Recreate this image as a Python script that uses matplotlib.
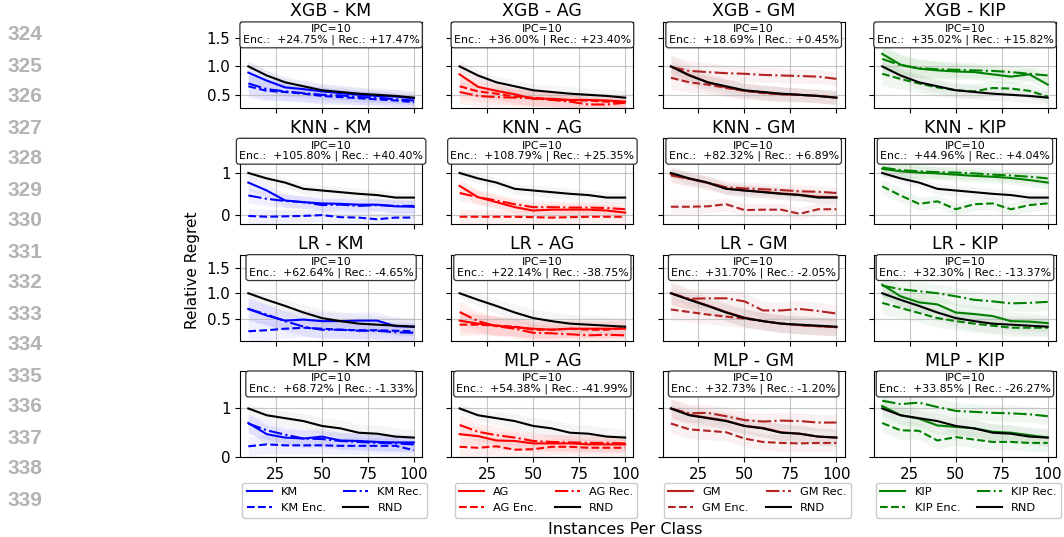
import matplotlib
matplotlib.use("Agg")
import matplotlib.pyplot as plt
import numpy as np

# instances per class
ipc = [10, 20, 30, 40, 50, 60, 70, 80, 90, 100]

classifiers = ["XGB", "KNN", "LR", "MLP"]
methods = ["KM", "AG", "GM", "KIP"]
colors = {"KM": "blue", "AG": "red", "GM": "#b22222", "KIP": "green"}

# random-selection baseline per classifier (same in every column)
rnd = {
    "XGB": [1.0, 0.84, 0.72, 0.65, 0.58, 0.55, 0.52, 0.50, 0.48, 0.45],
    "KNN": [1.0, 0.87, 0.77, 0.62, 0.58, 0.54, 0.50, 0.47, 0.41, 0.41],
    "LR": [1.0, 0.87, 0.75, 0.62, 0.51, 0.45, 0.40, 0.38, 0.36, 0.34],
    "MLP": [1.0, 0.86, 0.80, 0.74, 0.64, 0.59, 0.50, 0.48, 0.42, 0.40],
}
rnd_std = {
    "XGB": [0.10, 0.10, 0.11, 0.11, 0.11, 0.12, 0.12, 0.12, 0.12, 0.12],
    "KNN": [0.10, 0.12, 0.12, 0.13, 0.13, 0.13, 0.13, 0.13, 0.13, 0.13],
    "LR": [0.10, 0.12, 0.14, 0.16, 0.17, 0.18, 0.18, 0.18, 0.18, 0.18],
    "MLP": [0.10, 0.12, 0.14, 0.16, 0.17, 0.18, 0.18, 0.18, 0.18, 0.18],
}

# (classifier, method) -> plain / encoder / recovered curves
plain = {
    ("XGB", "KM"): [0.89, 0.75, 0.63, 0.60, 0.56, 0.53, 0.50, 0.48, 0.47, 0.44],
    ("XGB", "AG"): [0.86, 0.64, 0.57, 0.51, 0.43, 0.43, 0.41, 0.41, 0.40, 0.38],
    ("XGB", "GM"): [1.0, 0.85, 0.72, 0.63, 0.57, 0.54, 0.51, 0.50, 0.48, 0.45],
    ("XGB", "KIP"): [1.22, 1.03, 0.96, 0.93, 0.91, 0.90, 0.86, 0.82, 0.86, 0.68],
    ("KNN", "KM"): [0.77, 0.58, 0.34, 0.30, 0.27, 0.26, 0.24, 0.24, 0.20, 0.19],
    ("KNN", "AG"): [0.69, 0.42, 0.30, 0.18, 0.10, 0.12, 0.12, 0.12, 0.10, 0.05],
    ("KNN", "GM"): [0.97, 0.86, 0.76, 0.63, 0.58, 0.55, 0.51, 0.48, 0.43, 0.42],
    ("KNN", "KIP"): [1.10, 1.04, 1.01, 0.99, 0.96, 0.93, 0.91, 0.88, 0.83, 0.77],
    ("LR", "KM"): [0.69, 0.56, 0.46, 0.48, 0.45, 0.45, 0.46, 0.46, 0.35, 0.34],
    ("LR", "AG"): [0.46, 0.40, 0.36, 0.33, 0.30, 0.28, 0.30, 0.30, 0.30, 0.30],
    ("LR", "GM"): [1.0, 0.88, 0.76, 0.63, 0.52, 0.45, 0.40, 0.37, 0.35, 0.33],
    ("LR", "KIP"): [1.17, 0.94, 0.82, 0.78, 0.62, 0.59, 0.55, 0.45, 0.44, 0.41],
    ("MLP", "KM"): [0.70, 0.47, 0.40, 0.38, 0.42, 0.34, 0.33, 0.31, 0.30, 0.30],
    ("MLP", "AG"): [0.47, 0.43, 0.34, 0.33, 0.28, 0.28, 0.28, 0.26, 0.26, 0.26],
    ("MLP", "GM"): [1.0, 0.87, 0.81, 0.75, 0.64, 0.60, 0.51, 0.48, 0.42, 0.40],
    ("MLP", "KIP"): [1.05, 0.86, 0.79, 0.65, 0.62, 0.59, 0.52, 0.50, 0.45, 0.40],
}
enc = {
    ("XGB", "KM"): [0.65, 0.57, 0.55, 0.52, 0.48, 0.46, 0.44, 0.42, 0.40, 0.37],
    ("XGB", "AG"): [0.65, 0.56, 0.52, 0.47, 0.45, 0.42, 0.40, 0.40, 0.38, 0.36],
    ("XGB", "GM"): [0.80, 0.72, 0.68, 0.62, 0.57, 0.53, 0.51, 0.50, 0.48, 0.45],
    ("XGB", "KIP"): [0.87, 0.78, 0.70, 0.63, 0.58, 0.56, 0.62, 0.61, 0.57, 0.47],
    ("KNN", "KM"): [-0.03, -0.05, -0.04, -0.03, -0.01, -0.06, -0.07, -0.11, -0.07, -0.07],
    ("KNN", "AG"): [-0.05, -0.05, -0.05, -0.05, -0.06, -0.07, -0.06, -0.05, -0.05, -0.05],
    ("KNN", "GM"): [0.19, 0.19, 0.20, 0.25, 0.11, 0.12, 0.12, 0.02, 0.13, 0.13],
    ("KNN", "KIP"): [0.68, 0.46, 0.26, 0.32, 0.13, 0.25, 0.27, 0.13, 0.23, 0.27],
    ("LR", "KM"): [0.25, 0.27, 0.30, 0.32, 0.30, 0.28, 0.27, 0.27, 0.26, 0.25],
    ("LR", "AG"): [0.38, 0.38, 0.36, 0.34, 0.28, 0.28, 0.30, 0.28, 0.28, 0.32],
    ("LR", "GM"): [0.68, 0.63, 0.58, 0.54, 0.50, 0.45, 0.40, 0.37, 0.35, 0.33],
    ("LR", "KIP"): [0.81, 0.71, 0.61, 0.51, 0.45, 0.40, 0.36, 0.32, 0.32, 0.32],
    ("MLP", "KM"): [0.22, 0.26, 0.24, 0.24, 0.24, 0.23, 0.23, 0.23, 0.23, 0.14],
    ("MLP", "AG"): [0.21, 0.19, 0.22, 0.15, 0.16, 0.21, 0.21, 0.19, 0.19, 0.19],
    ("MLP", "GM"): [0.69, 0.57, 0.54, 0.51, 0.38, 0.31, 0.29, 0.28, 0.29, 0.29],
    ("MLP", "KIP"): [0.70, 0.55, 0.54, 0.34, 0.41, 0.36, 0.31, 0.31, 0.29, 0.29],
}
rec = {
    ("XGB", "KM"): [0.70, 0.60, 0.56, 0.53, 0.50, 0.49, 0.46, 0.45, 0.42, 0.40],
    ("XGB", "AG"): [0.55, 0.48, 0.46, 0.45, 0.44, 0.41, 0.38, 0.33, 0.33, 0.36],
    ("XGB", "GM"): [0.99, 0.92, 0.90, 0.88, 0.87, 0.85, 0.84, 0.83, 0.82, 0.78],
    ("XGB", "KIP"): [1.13, 1.02, 0.97, 0.95, 0.94, 0.93, 0.92, 0.90, 0.87, 0.84],
    ("KNN", "KM"): [0.46, 0.38, 0.33, 0.30, 0.23, 0.24, 0.21, 0.23, 0.21, 0.21],
    ("KNN", "AG"): [0.52, 0.42, 0.34, 0.25, 0.18, 0.18, 0.17, 0.17, 0.16, 0.13],
    ("KNN", "GM"): [0.94, 0.86, 0.77, 0.66, 0.63, 0.61, 0.59, 0.56, 0.55, 0.52],
    ("KNN", "KIP"): [1.13, 1.07, 1.04, 1.02, 1.01, 0.99, 0.96, 0.94, 0.91, 0.87],
    ("LR", "KM"): [0.69, 0.58, 0.45, 0.34, 0.28, 0.28, 0.26, 0.26, 0.23, 0.22],
    ("LR", "AG"): [0.63, 0.45, 0.35, 0.30, 0.22, 0.21, 0.19, 0.17, 0.18, 0.17],
    ("LR", "GM"): [1.0, 0.89, 0.90, 0.90, 0.84, 0.66, 0.66, 0.69, 0.65, 0.60],
    ("LR", "KIP"): [1.15, 1.08, 1.04, 1.00, 0.94, 0.87, 0.84, 0.80, 0.81, 0.83],
    ("MLP", "KM"): [0.69, 0.55, 0.46, 0.38, 0.37, 0.33, 0.31, 0.29, 0.28, 0.26],
    ("MLP", "AG"): [0.66, 0.52, 0.45, 0.40, 0.33, 0.31, 0.30, 0.29, 0.29, 0.28],
    ("MLP", "GM"): [1.0, 0.90, 0.91, 0.84, 0.76, 0.73, 0.75, 0.74, 0.71, 0.71],
    ("MLP", "KIP"): [1.16, 1.09, 1.12, 1.03, 0.95, 0.93, 0.91, 0.90, 0.88, 0.84],
}
# spread used for the shaded bands of each method
method_std = {
    "XGB": [0.20, 0.18, 0.16, 0.15, 0.14, 0.13, 0.13, 0.12, 0.12, 0.12],
    "KNN": [0.18, 0.17, 0.16, 0.15, 0.15, 0.15, 0.15, 0.15, 0.15, 0.15],
    "LR": [0.22, 0.20, 0.19, 0.18, 0.18, 0.17, 0.17, 0.17, 0.17, 0.17],
    "MLP": [0.20, 0.19, 0.18, 0.18, 0.17, 0.17, 0.17, 0.17, 0.17, 0.17],
}

gain_enc = {
    ("XGB", "KM"): "+24.75%", ("XGB", "AG"): "+36.00%", ("XGB", "GM"): "+18.69%", ("XGB", "KIP"): "+35.02%",
    ("KNN", "KM"): "+105.80%", ("KNN", "AG"): "+108.79%", ("KNN", "GM"): "+82.32%", ("KNN", "KIP"): "+44.96%",
    ("LR", "KM"): "+62.64%", ("LR", "AG"): "+22.14%", ("LR", "GM"): "+31.70%", ("LR", "KIP"): "+32.30%",
    ("MLP", "KM"): "+68.72%", ("MLP", "AG"): "+54.38%", ("MLP", "GM"): "+32.73%", ("MLP", "KIP"): "+33.85%",
}
gain_rec = {
    ("XGB", "KM"): "+17.47%", ("XGB", "AG"): "+23.40%", ("XGB", "GM"): "+0.45%", ("XGB", "KIP"): "+15.82%",
    ("KNN", "KM"): "+40.40%", ("KNN", "AG"): "+25.35%", ("KNN", "GM"): "+6.89%", ("KNN", "KIP"): "+4.04%",
    ("LR", "KM"): "-4.65%", ("LR", "AG"): "-38.75%", ("LR", "GM"): "-2.05%", ("LR", "KIP"): "-13.37%",
    ("MLP", "KM"): "-1.33%", ("MLP", "AG"): "-41.99%", ("MLP", "GM"): "-1.20%", ("MLP", "KIP"): "-26.27%",
}

row_ylim = [(0.27, 1.78), (-0.23, 1.83), (0.065, 1.76), (0.0, 1.77)]
row_yticks = [[0.5, 1.0, 1.5], [0, 1], [0.5, 1.0, 1.5], [0, 1]]
line_numbers = list(range(324, 340))

fig, axes = plt.subplots(4, 4, figsize=(10.64, 5.37), dpi=100, sharex=True, sharey="row")
fig.subplots_adjust(left=0.2256, right=0.9925, top=0.959, bottom=0.149, wspace=0.16, hspace=0.355)

x = np.array(ipc)
for r, clf in enumerate(classifiers):
    for c, m in enumerate(methods):
        ax = axes[r, c]
        col = colors[m]
        s = np.array(method_std[clf])
        for series in (plain, enc, rec):
            y = np.array(series[(clf, m)])
            ax.fill_between(x, y - s, y + s, color=col, alpha=0.06, lw=0)
        yr = np.array(rnd[clf])
        sr = np.array(rnd_std[clf])
        ax.fill_between(x, yr - sr, yr + sr, color="gray", alpha=0.08, lw=0)

        ax.plot(x, plain[(clf, m)], color=col, lw=1.5, label=m)
        ax.plot(x, enc[(clf, m)], color=col, lw=1.5, ls="--", label=f"{m} Enc.")
        ax.plot(x, rec[(clf, m)], color=col, lw=1.5, ls="-.", label=f"{m} Rec.")
        ax.plot(x, rnd[clf], color="black", lw=1.5, label="RND")

        ax.set_title(f"{clf} - {m}", fontsize=12.5, pad=4)
        ax.grid(True, color="#b0b0b0", lw=0.8, alpha=0.7)
        ax.set_ylim(*row_ylim[r])
        ax.set_yticks(row_yticks[r])
        ax.set_xticks([25, 50, 75, 100])
        ax.tick_params(labelsize=10.8)
        ax.text(0.5, 0.975, f"IPC=10\nEnc.:  {gain_enc[(clf, m)]} | Rec.: {gain_rec[(clf, m)]}",
                transform=ax.transAxes, ha="center", va="top", fontsize=7.9,
                linespacing=1.05,
                bbox=dict(boxstyle="round,pad=0.25", fc="white", ec="#333333", lw=0.9))
        if r == 3:
            ax.legend(loc="upper center", bbox_to_anchor=(0.52, -0.235), ncol=2,
                      fontsize=8.2, columnspacing=1.5, handlelength=2.2, framealpha=1)

fig.text(192 / 1064, 1 - 270 / 537, "Relative Regret", rotation=90, ha="center", va="center", fontsize=11)
fig.text(625 / 1064, 1 - 530 / 537, "Instances Per Class", ha="center", va="center", fontsize=11.5)

for i, n in enumerate(line_numbers):
    fig.text(7 / 1064, 1 - (35 + 31 * i) / 537, str(n), ha="left", va="center",
             fontsize=15, fontweight="bold", color="#b3b3b3", family="Liberation Sans")

fig.savefig("out.png", dpi=100)
